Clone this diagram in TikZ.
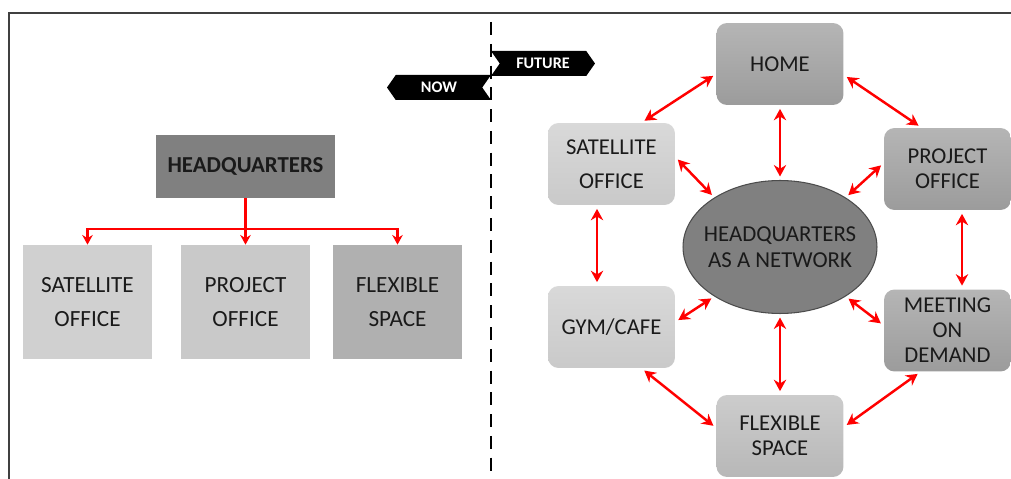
\documentclass[tikz,border=0pt]{standalone}
\usepackage{fontspec}
\setmainfont{Carlito}
\usepackage{xcolor}
\usetikzlibrary{
    arrows.meta,
    shapes.geometric,
    shapes.symbols,
    positioning
}
\definecolor{hubgray}{HTML}{808080}
\definecolor{inkgray}{HTML}{1A1A1A}

\begin{document}
\begin{tikzpicture}[
    x=0.02cm, y=-0.02cm,
    oldbox/.style={
        rectangle,
        minimum width=2.58cm,
        minimum height=2.28cm,
        align=center,
        text=inkgray,
        font=\fontsize{13.2}{19.3}\selectfont
    },
    spot/.style={
        rectangle,
        rounded corners=6pt,
        minimum width=2.54cm,
        minimum height=1.64cm,
        align=center,
        text=inkgray,
        font=\fontsize{12.9}{14.2}\selectfont
    },
    light/.style={spot, top color=gray!30, bottom color=gray!42},
    mid/.style={spot, top color=gray!40, bottom color=gray!56},
    dark/.style={spot, top color=gray!58, bottom color=gray!78},
    tag/.style={
        signal,
        signal pointer angle=110,
        fill=black,
        text=white,
        minimum width=2.08cm,
        minimum height=0.5cm,
        inner sep=0pt,
        font=\fontsize{9.2}{10}\selectfont\bfseries
    },
    tree/.style={red, line width=1.4pt, -{Stealth[length=5.5pt,width=6pt]}},
    link/.style={red, line width=1.4pt,
        {Stealth[length=6.5pt,width=7pt]}-{Stealth[length=6.5pt,width=7pt]},
        shorten <=2pt, shorten >=2pt}
]
\useasboundingbox (0,0) rectangle (1011,479);

% Frame
\draw[black!75, line width=0.6pt] (9,479) -- (9,13) -- (1011,13);

% Divider between now and future
\coordinate (divtop) at (491,22);
\coordinate (divbot) at (491,479);
\draw[line width=1.3pt, dash pattern=on 7.4pt off 5pt] (divtop) -- (divbot);

% Time tags
\node[tag, signal to=east, signal from=west] (future) at (543,63.5) {FUTURE};
\node[tag, signal to=west, signal from=east] (now) at (439,87.5) {NOW};

% Now: classic headquarters
\node[rectangle, fill=hubgray, minimum width=3.58cm, minimum height=1.26cm,
      font=\fontsize{13}{14}\selectfont\bfseries, text=inkgray] (hq) at (245.5,166.5) {HEADQUARTERS};
\node[oldbox, fill=gray!37] (sat1) at (87.5,302) {SATELLITE\\OFFICE};
\node[oldbox, fill=gray!42] (proj1) at (245.5,302) {PROJECT\\OFFICE};
\node[oldbox, fill=gray!62] (flex1) at (397.5,302) {FLEXIBLE\\SPACE};

\coordinate (split) at (245.5,229);
\draw[tree] (hq.south) -- (proj1.north);
\draw[tree] (split) -| (sat1.north);
\draw[tree] (split) -| (flex1.north);

% Future: headquarters as a network
\node[ellipse, fill=hubgray, draw=black!70, line width=0.6pt,
      inner xsep=-6pt, inner ysep=0pt,
      minimum width=3.88cm, minimum height=2.66cm, align=center, text=inkgray,
      font=\fontsize{13}{15.1}\selectfont] (net) at (780,247) {HEADQUARTERS\\AS A NETWORK};

\node[dark] (home) at (780,64) {HOME};
\node[light, font=\fontsize{12.9}{19.3}\selectfont] (sat) at (611.5,164) {SATELLITE\\OFFICE};
\node[dark] (proj) at (947.5,169) {PROJECT\\OFFICE};
\node[light] (gym) at (611.5,327) {GYM/CAFE};
\node[dark] (meet) at (947.5,330.5) {MEETING\\ON\\DEMAND};
\node[mid] (flex) at (780,436) {FLEXIBLE\\SPACE};

% Links to the hub
\draw[link] (home.south) -- (net.north);
\draw[link] (net.south) -- (flex.north);
\draw[link] ([yshift=0.14cm]sat.east) -- (net.143);
\draw[link] ([yshift=0.12cm]proj.west) -- (net.37);
\draw[link] ([yshift=0.1cm]gym.east) -- (net.217);
\draw[link] ([yshift=0.1cm]meet.west) -- (net.323);

% Links around the ring
\draw[link] ([xshift=0.6cm]sat.north) -- ([yshift=-0.2cm]home.west);
\draw[link] ([yshift=-0.22cm]home.east) -- ([xshift=-0.52cm]proj.north);
\draw[link] ([xshift=-0.29cm]sat.south) -- ([xshift=-0.29cm]gym.north);
\draw[link] ([xshift=0.29cm]proj.south) -- ([xshift=0.29cm]meet.north);
\draw[link] ([xshift=0.6cm]gym.south) -- ([yshift=0.16cm]flex.west);
\draw[link] ([xshift=-0.54cm]meet.south) -- ([yshift=0.18cm]flex.east);

\end{tikzpicture}
\end{document}
